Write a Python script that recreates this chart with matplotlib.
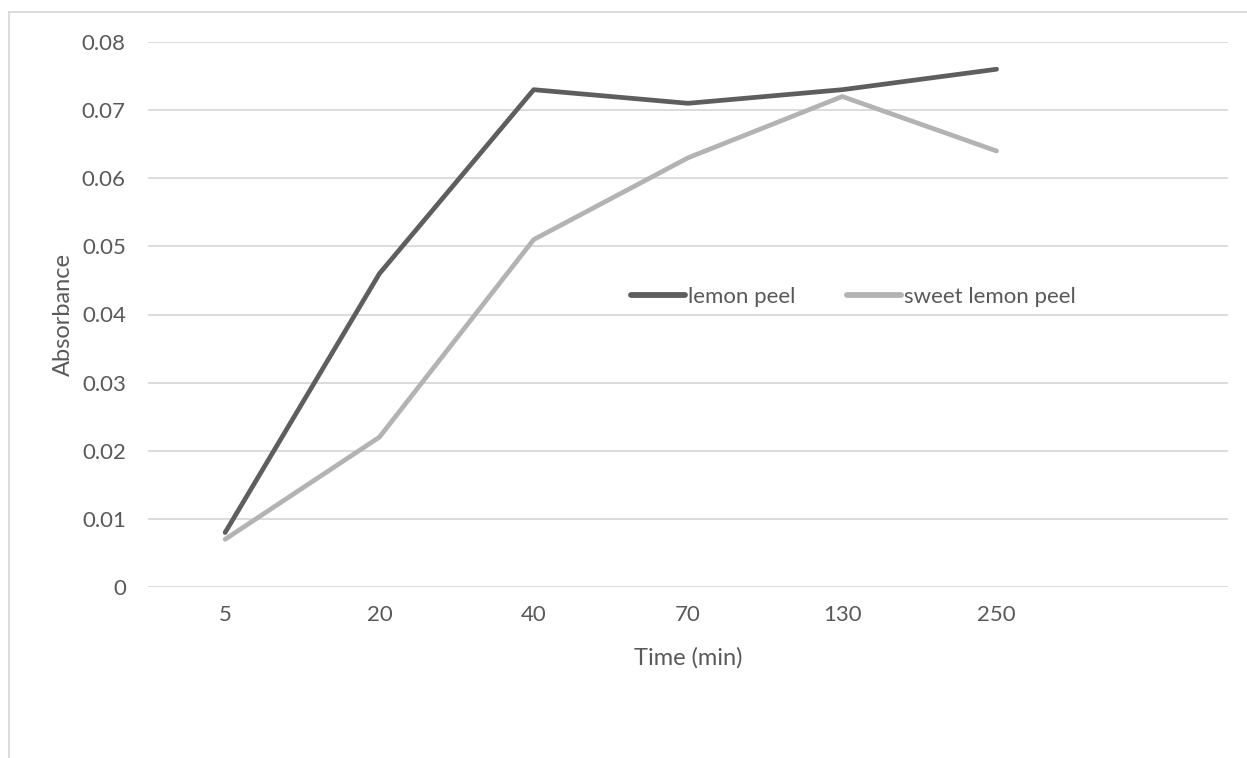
import matplotlib.pyplot as plt
from matplotlib.lines import Line2D

# data
times = ["5", "20", "40", "70", "130", "250", ""]
lemon_peel = [0.008, 0.046, 0.073, 0.071, 0.073, 0.076]
sweet_lemon_peel = [0.007, 0.022, 0.051, 0.063, 0.072, 0.064]

plt.rcParams["font.family"] = ["Lato", "DejaVu Sans"]
text_col = "#595959"
grid_col = "#D9D9D9"

W, H = 1247, 758
fig = plt.figure(figsize=(W / 100, H / 100), dpi=100)
ax = fig.add_axes([148 / W, (H - 587) / H, (1228 - 148) / W, (587 - 42) / H])

x = list(range(len(times)))
ax.plot(x[:len(lemon_peel)], lemon_peel, color="#5E5E5E", lw=3.4,
        solid_capstyle="round", solid_joinstyle="round", label="lemon peel")
ax.plot(x[:len(sweet_lemon_peel)], sweet_lemon_peel, color="#B3B3B3", lw=3.4,
        solid_capstyle="round", solid_joinstyle="round", label="sweet lemon peel")

ax.set_xlim(-0.5, len(times) - 0.5)
ax.set_ylim(0, 0.08)
ax.set_xticks(x)
ax.set_xticklabels(times)
ax.set_yticks([i / 100 for i in range(9)])
ax.set_yticklabels(["0"] + [f"{i / 100:.2f}" for i in range(1, 9)])
ax.grid(axis="y", color=grid_col, lw=1.3)
ax.set_axisbelow(True)
for s in ax.spines.values():
    s.set_visible(False)
ax.tick_params(length=0, labelsize=16, colors=text_col)
ax.tick_params(axis="y", pad=16)
ax.tick_params(axis="x", pad=13)

ax.set_xlabel("Time (min)", fontsize=17, color=text_col, labelpad=16)
ax.set_ylabel("Absorbance", fontsize=17, color=text_col, labelpad=6)

leg = ax.legend(loc="center", bbox_to_anchor=(0.653, 0.532), ncol=2, frameon=False,
                fontsize=16, labelcolor=text_col, handlelength=2.45, handletextpad=0.12,
                columnspacing=2.3)
for h in leg.get_lines():
    h.set_linewidth(4.2)

# chart area border (only left and top are visible)
fig.add_artist(Line2D([8.5 / W, 8.5 / W], [0, 1 - 12 / H], color=grid_col, lw=1.3))
fig.add_artist(Line2D([8.5 / W, 1], [1 - 12 / H, 1 - 12 / H], color=grid_col, lw=1.3))

fig.savefig("out.png", dpi=100)
